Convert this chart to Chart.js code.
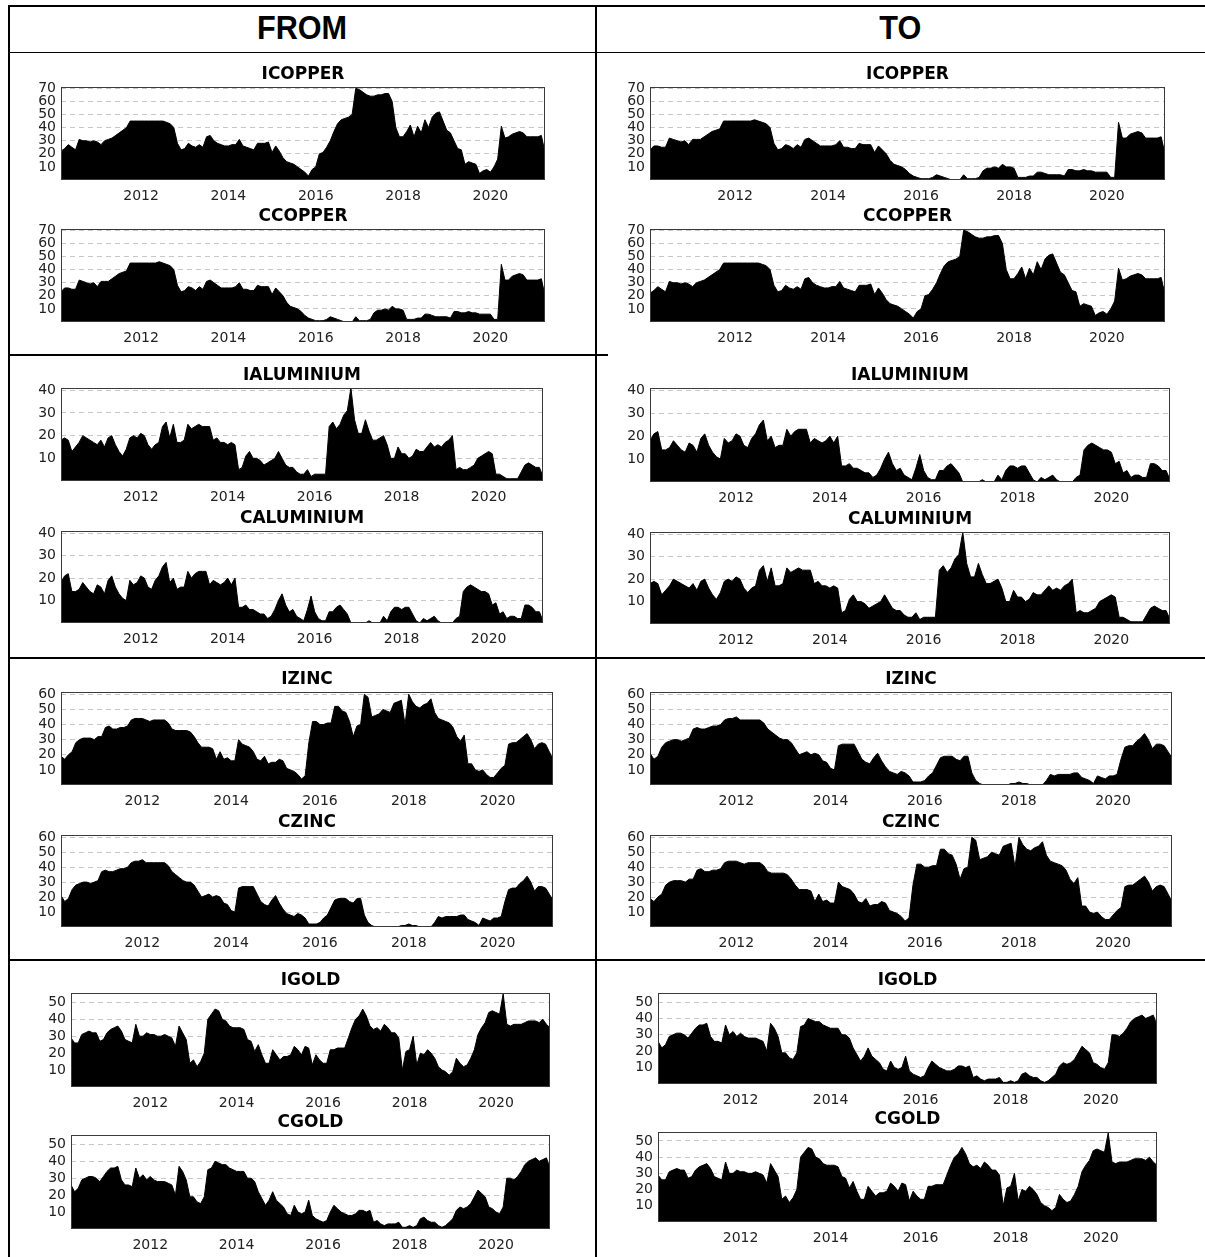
<!DOCTYPE html>
<html>
<head>
<meta charset="utf-8">
<script src="https://cdn.jsdelivr.net/npm/chart.js@4.4.0/dist/chart.umd.min.js"></script>
<style>
  body { margin: 0; background: #fff; width: 1205px; height: 1257px; position: relative; overflow: hidden; }
  .hd { position: absolute; top: 8px; height: 44px; line-height: 44px; text-align: center;
        font: bold 34px "Liberation Sans", Arial, sans-serif; color: #000; }
  .hd span { display: inline-block; transform: scaleX(0.9); }
  .ln { position: absolute; background: #000; }
  canvas { position: absolute; }
</style>
</head>
<body>
<div class="hd" style="left:8px;width:588px;"><span>FROM</span></div>
<div class="hd" style="left:596px;width:609px;"><span>TO</span></div>

<div class="ln" style="left:8px;top:5px;width:1197px;height:2px;"></div>
<div class="ln" style="left:8px;top:5px;width:2px;height:1252px;"></div>
<div class="ln" style="left:8px;top:52px;width:1197px;height:1px;"></div>
<div class="ln" style="left:595px;top:5px;width:2px;height:1252px;"></div>
<div class="ln" style="left:8px;top:354px;width:600px;height:2px;"></div>
<div class="ln" style="left:8px;top:657px;width:1197px;height:2px;"></div>
<div class="ln" style="left:8px;top:959px;width:1197px;height:2px;"></div>

<script>
// monthly readings, March 2010 .. April 2021
const startYear = 2010;
const startMonth = 3;
const monthCount = 134;
const months = [];
for (let i = 0; i < monthCount; i++) months.push(startYear + (startMonth - 1 + i) / 12);

const xTickYears = [2012, 2014, 2016, 2018, 2020];
const copperTicks = [10, 20, 30, 40, 50, 60, 70];
const aluminiumTicks = [10, 20, 30, 40];
const zincTicks = [10, 20, 30, 40, 50, 60];
const goldTicks = [10, 20, 30, 40, 50];

// ICOPPER (from) == CCOPPER (to)
const copperA = [
  22, 24, 27, 25, 23, 31, 30, 30, 29, 30,
  29, 27, 30, 31, 32, 34, 36, 38, 40, 45, 45, 45,
  45, 45, 45, 45, 45, 45, 45, 44, 43, 40, 28, 23,
  24, 28, 26, 25, 27, 25, 33, 34, 30, 28, 27, 26,
  26, 27, 27, 31, 26, 25, 24, 23, 28, 28, 28, 29,
  21, 26, 22, 17, 14, 13, 12, 10, 8, 6, 3, 8,
  10, 20, 21, 25, 30, 37, 43, 46, 47, 48, 50, 70,
  69, 67, 65, 64, 64, 65, 65, 66, 66, 60, 40, 33,
  33, 37, 42, 33, 41, 36, 46, 40, 48, 51, 52, 45,
  38, 36, 30, 24, 23, 12, 14, 13, 12, 5, 7, 8,
  6, 10, 16, 41, 32, 33, 35, 36, 37, 36, 33, 33,
  33, 33, 34, 21
];
// CCOPPER (from) == ICOPPER (to)
const copperB = [
  23, 26, 26, 25, 25, 32, 31, 30, 29, 30,
  27, 31, 31, 31, 33, 35, 37, 38, 39, 45, 45, 45,
  45, 45, 45, 45, 45, 46, 45, 44, 43, 40, 28, 23,
  24, 27, 26, 24, 27, 25, 31, 32, 30, 28, 26, 26,
  26, 26, 27, 30, 25, 25, 24, 24, 28, 27, 27, 27,
  21, 26, 23, 20, 15, 12, 11, 10, 8, 5, 3, 2,
  1, 1, 1, 2, 4, 3, 2, 1, 0, 0, 0, 4,
  1, 1, 1, 2, 7, 9, 9, 10, 9, 12, 10, 10,
  9, 2, 2, 2, 3, 3, 6, 6, 5, 4, 4, 4,
  4, 3, 8, 8, 7, 7, 8, 7, 7, 6, 6, 6,
  6, 2, 2, 44, 32, 32, 35, 36, 37, 36, 32, 32,
  32, 32, 33, 20
];
// IALUMINIUM (from) == CALUMINIUM (to)
const alumA = [
  18, 19, 18, 13, 15, 17, 20, 19, 18, 17,
  16, 18, 15, 19, 20, 16, 13, 11, 14, 19, 20, 19,
  21, 20, 16, 14, 16, 17, 24, 26, 19, 25, 17, 17,
  18, 25, 23, 24, 25, 24, 24, 24, 18, 19, 17, 17,
  16, 17, 16, 5, 6, 11, 13, 10, 10, 9, 7, 8,
  9, 10, 13, 10, 7, 6, 6, 4, 3, 3, 5, 2,
  3, 3, 3, 3, 24, 26, 23, 25, 29, 31, 41, 27,
  21, 21, 27, 22, 18, 18, 19, 20, 16, 10, 10, 15,
  12, 12, 10, 11, 14, 13, 13, 15, 17, 15, 16, 15,
  17, 18, 20, 5, 6, 5, 5, 6, 7, 10, 11, 12,
  13, 12, 3, 3, 2, 1, 1, 1, 1, 4, 7, 8,
  7, 6, 6, 2
];
// CALUMINIUM (from) == IALUMINIUM (to)
const alumB = [
  18, 21, 22, 14, 14, 15, 18, 16, 14, 13,
  17, 16, 13, 19, 21, 16, 13, 11, 10, 19, 17, 18,
  21, 20, 16, 15, 19, 21, 25, 27, 18, 20, 15, 16,
  16, 23, 20, 22, 23, 23, 23, 17, 19, 18, 17, 18,
  20, 17, 20, 7, 7, 8, 6, 6, 5, 4, 4, 2,
  3, 6, 10, 13, 8, 5, 6, 3, 2, 1, 6, 12,
  5, 2, 1, 1, 5, 5, 7, 8, 6, 4, 0, 0,
  0, 0, 0, 1, 0, 0, 0, 3, 1, 5, 7, 7,
  6, 7, 7, 4, 1, 0, 2, 1, 2, 3, 1, 0,
  0, 0, 0, 2, 3, 14, 16, 17, 16, 15, 14, 14,
  13, 8, 9, 4, 5, 2, 3, 3, 2, 2, 8, 8,
  7, 5, 5, 1
];
// IZINC (from) == CZINC (to)
const zincA = [
  19, 17, 20, 22, 28, 30, 31, 31, 31, 30,
  32, 32, 38, 39, 37, 37, 38, 38, 39, 43, 44, 44,
  44, 43, 42, 43, 43, 43, 43, 41, 37, 36, 36, 36,
  36, 35, 32, 28, 25, 25, 25, 24, 17, 22, 17, 18,
  16, 16, 30, 27, 26, 25, 22, 17, 16, 19, 14, 15,
  15, 17, 16, 11, 10, 9, 7, 4, 6, 28, 42, 42,
  40, 40, 41, 41, 52, 52, 49, 48, 42, 32, 39, 40,
  60, 58, 45, 46, 47, 50, 49, 48, 54, 55, 56, 40,
  60, 55, 52, 51, 53, 54, 57, 48, 44, 43, 42, 41,
  38, 32, 29, 33, 14, 14, 10, 9, 10, 7, 5, 5,
  8, 11, 13, 27, 28, 28, 30, 32, 34, 30, 24, 27,
  28, 27, 22, 17
];
// CZINC (from) == IZINC (to)
const zincB = [
  21, 17, 19, 25, 28, 29, 30, 30, 29, 30,
  31, 37, 38, 37, 37, 38, 39, 39, 40, 43, 44, 44,
  45, 43, 43, 43, 43, 43, 43, 41, 37, 35, 33, 31,
  30, 30, 28, 24, 20, 21, 22, 20, 21, 20, 16, 15,
  11, 10, 26, 27, 27, 27, 27, 22, 17, 15, 14, 18,
  21, 16, 12, 9, 8, 7, 9, 8, 6, 2, 2, 2,
  3, 6, 8, 13, 18, 19, 19, 19, 17, 16, 19, 19,
  8, 3, 1, 0, 0, 0, 0, 0, 0, 0, 1, 1,
  2, 1, 1, 0, 0, 0, 0, 3, 7, 6, 7, 7,
  7, 7, 8, 8, 5, 4, 3, 1, 6, 5, 4, 6,
  6, 7, 17, 25, 26, 26, 29, 31, 34, 30, 24, 27,
  27, 26, 22, 18
];
// IGOLD (from) == CGOLD (to)
const goldA = [
  29, 26, 26, 31, 32, 33, 32, 32, 27, 28,
  32, 34, 35, 36, 33, 28, 27, 26, 37, 30, 30, 32,
  31, 31, 30, 30, 31, 30, 29, 24, 36, 32, 28, 14,
  16, 12, 15, 20, 40, 43, 46, 45, 40, 39, 36, 35,
  35, 35, 34, 28, 27, 21, 25, 19, 14, 14, 22, 19,
  16, 18, 18, 19, 24, 22, 19, 24, 23, 13, 19, 16,
  14, 14, 22, 22, 23, 23, 23, 29, 35, 40, 42, 46,
  42, 36, 34, 35, 33, 37, 35, 32, 32, 29, 10, 21,
  22, 30, 13, 20, 19, 22, 20, 17, 12, 10, 9, 7,
  9, 17, 14, 12, 13, 17, 22, 31, 35, 38, 44, 45,
  44, 43, 55, 37, 36, 37, 37, 37, 38, 39, 39, 39,
  38, 40, 37, 35
];
// CGOLD (from) == IGOLD (to)
const goldB = [
  26, 22, 24, 29, 30, 31, 31, 30, 28, 31,
  34, 36, 36, 37, 29, 26, 26, 25, 36, 30, 32, 29,
  31, 29, 28, 28, 28, 27, 26, 20, 37, 34, 29, 19,
  19, 16, 15, 19, 35, 36, 40, 39, 38, 38, 36, 35,
  34, 34, 34, 30, 30, 28, 22, 18, 14, 17, 22, 17,
  15, 13, 9, 8, 14, 10, 9, 10, 17, 8, 6, 5,
  4, 5, 10, 14, 12, 10, 9, 8, 8, 9, 11, 11,
  10, 11, 4, 5, 3, 2, 3, 3, 3, 4, 1, 1,
  2, 1, 2, 6, 7, 5, 4, 4, 2, 1, 2, 4,
  6, 11, 13, 12, 13, 15, 19, 23, 21, 19, 13, 12,
  10, 9, 13, 30, 30, 29, 31, 34, 38, 40, 41, 42,
  40, 41, 42, 36
];

// panel boxes: [left, right, top, bottom] of the plot area
const panels = [
  { title: 'ICOPPER',    data: copperA, yMax: 71,   yTicks: copperTicks,    box: [61, 545, 87, 180] },
  { title: 'CCOPPER',    data: copperB, yMax: 71,   yTicks: copperTicks,    box: [61, 545, 229, 322] },
  { title: 'IALUMINIUM', data: alumA,   yMax: 41,   yTicks: aluminiumTicks, box: [61, 543, 388, 481] },
  { title: 'CALUMINIUM', data: alumB,   yMax: 41,   yTicks: aluminiumTicks, box: [61, 543, 531, 623] },
  { title: 'IZINC',      data: zincA,   yMax: 61.5, yTicks: zincTicks,      box: [61, 553, 692, 785] },
  { title: 'CZINC',      data: zincB,   yMax: 61.5, yTicks: zincTicks,      box: [61, 553, 835, 927] },
  { title: 'IGOLD',      data: goldA,   yMax: 55.5, yTicks: goldTicks,      box: [71, 550, 993, 1087] },
  { title: 'CGOLD',      data: goldB,   yMax: 55.5, yTicks: goldTicks,      box: [71, 550, 1135, 1229] },

  { title: 'ICOPPER',    data: copperB, yMax: 71,   yTicks: copperTicks,    box: [650, 1165, 87, 180] },
  { title: 'CCOPPER',    data: copperA, yMax: 71,   yTicks: copperTicks,    box: [650, 1165, 229, 322] },
  { title: 'IALUMINIUM', data: alumB,   yMax: 41,   yTicks: aluminiumTicks, box: [650, 1170, 388, 482] },
  { title: 'CALUMINIUM', data: alumA,   yMax: 41,   yTicks: aluminiumTicks, box: [650, 1170, 532, 624] },
  { title: 'IZINC',      data: zincB,   yMax: 61.5, yTicks: zincTicks,      box: [650, 1172, 692, 785] },
  { title: 'CZINC',      data: zincA,   yMax: 61.5, yTicks: zincTicks,      box: [650, 1172, 835, 927] },
  { title: 'IGOLD',      data: goldB,   yMax: 55.5, yTicks: goldTicks,      box: [658, 1157, 993, 1084] },
  { title: 'CGOLD',      data: goldA,   yMax: 55.5, yTicks: goldTicks,      box: [658, 1157, 1132, 1222] }
];

const AXIS_W = 42;   // y axis width
const PAD_R = 6;
const PAD_T = 2;
const TITLE_H = 22;  // 20px line + 2px padding
const XAXIS_H = 26;
const FONT = "'DejaVu Sans', 'Liberation Sans', sans-serif";

// box round the plot area
const framePlugin = {
  id: 'frame',
  afterDraw(chart) {
    const a = chart.chartArea;
    const ctx = chart.ctx;
    ctx.save();
    ctx.strokeStyle = '#3a3a3a';
    ctx.lineWidth = 1;
    ctx.strokeRect(a.left + 0.5, a.top + 0.5, a.right - a.left - 1, a.bottom - a.top - 1);
    ctx.restore();
  }
};

function drawPanel(p) {
  const [l, r, t, b] = p.box;
  const w = r - l + AXIS_W + PAD_R;
  const h = b - t + TITLE_H + PAD_T + XAXIS_H;
  const cv = document.createElement('canvas');
  cv.width = w;
  cv.height = h;
  cv.style.left = (l - AXIS_W) + 'px';
  cv.style.top = (t - TITLE_H - PAD_T) + 'px';
  cv.style.width = w + 'px';
  cv.style.height = h + 'px';
  document.body.appendChild(cv);

  new Chart(cv, {
    type: 'line',
    data: {
      datasets: [{
        data: p.data.map((v, i) => ({ x: months[i], y: v })),
        borderColor: '#000',
        backgroundColor: '#000',
        borderWidth: 1,
        fill: 'origin',
        pointRadius: 0,
        tension: 0
      }]
    },
    plugins: [framePlugin],
    options: {
      responsive: false,
      animation: false,
      devicePixelRatio: 1,
      layout: { padding: { left: 0, right: PAD_R, top: PAD_T, bottom: 0 } },
      plugins: {
        legend: { display: false },
        tooltip: { enabled: false },
        title: {
          display: true,
          text: p.title,
          fullSize: false,
          color: '#000',
          font: { family: FONT, size: 17, weight: 'bold', lineHeight: '20px' },
          padding: { top: 0, bottom: 2 }
        }
      },
      scales: {
        x: {
          type: 'linear',
          min: months[0],
          max: months[monthCount - 1],
          afterBuildTicks: axis => { axis.ticks = xTickYears.map(v => ({ value: v })); },
          afterFit: axis => { axis.height = XAXIS_H; },
          grid: { display: false, drawTicks: false },
          border: { display: false },
          ticks: {
            color: '#222',
            padding: 8,
            maxRotation: 0,
            autoSkip: false,
            font: { family: FONT, size: 14 },
            callback: v => String(v)
          }
        },
        y: {
          min: 0,
          max: p.yMax,
          afterBuildTicks: axis => { axis.ticks = p.yTicks.map(v => ({ value: v })); },
          afterFit: axis => { axis.width = AXIS_W; },
          grid: { color: '#c8c8c8', lineWidth: 1, drawTicks: false },
          border: { display: false, dash: [5, 4] },
          ticks: {
            color: '#222',
            padding: 5,
            autoSkip: false,
            font: { family: FONT, size: 14 },
            callback: v => String(v)
          }
        }
      }
    }
  });
}

panels.forEach(drawPanel);
</script>
</body>
</html>
